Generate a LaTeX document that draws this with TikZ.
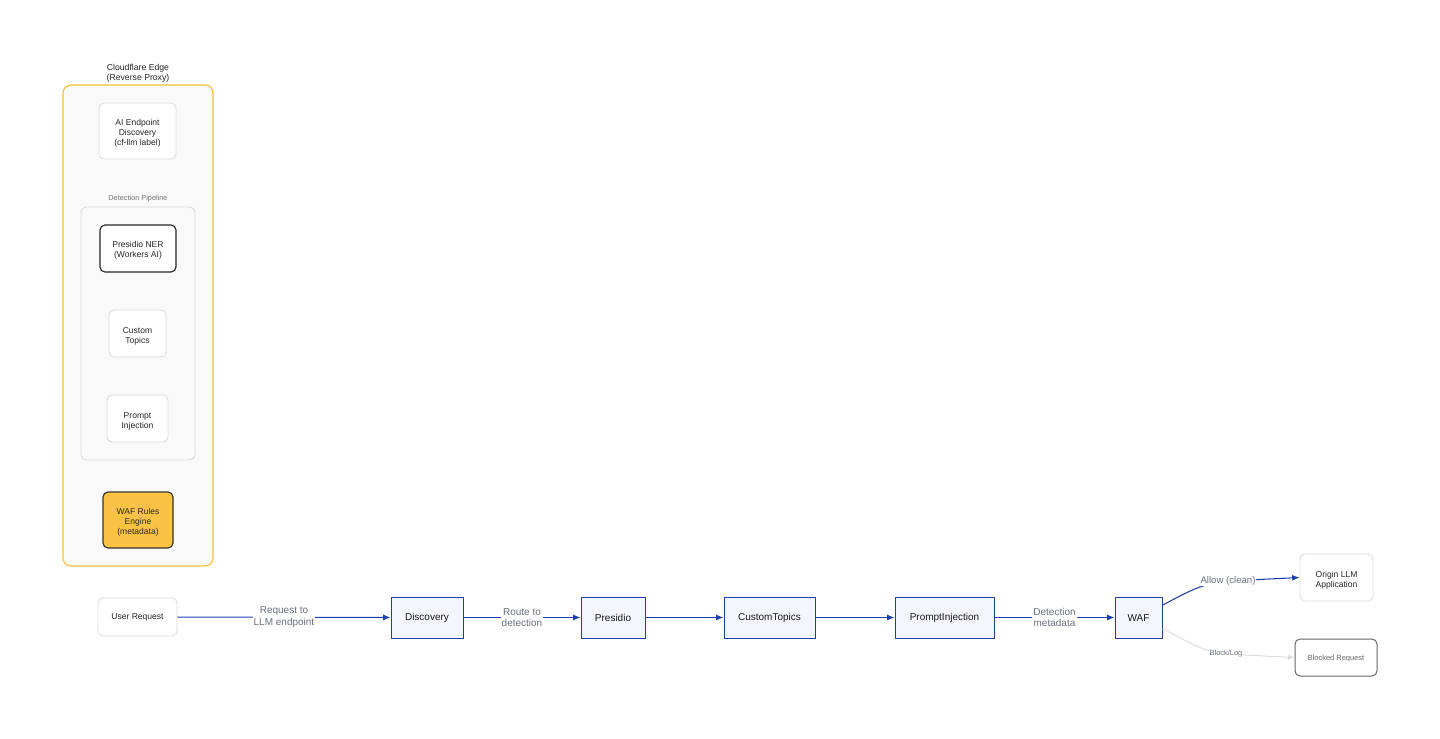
\documentclass[tikz,border=0pt]{standalone}
\usepackage{fontspec}
\setmainfont{Liberation Sans}
\usetikzlibrary{arrows.meta}
\newdimen\px \px=0.75pt
\definecolor{flowblue}{HTML}{1E3FAE}
\definecolor{flowfill}{HTML}{F4F6FE}
\definecolor{edgeorange}{HTML}{FBBF3A}
\definecolor{wafyellow}{HTML}{FBC344}
\definecolor{lightborder}{HTML}{DCDCDC}
\definecolor{panelfill}{HTML}{F9F9F9}
\definecolor{labelgray}{HTML}{6B6F80}
\tikzset{
  whitebox/.style={draw=lightborder, fill=white, rounded corners=3.75pt, line width=0.7pt, align=center, inner sep=0pt, font=\fontsize{6.4}{7.6}\selectfont, text=black!85},
  wtext/.style={align=center, inner sep=0pt, font=\fontsize{6.4}{7.6}\selectfont, text=black!85, yshift=-1.9pt},
  flowbox/.style={draw=flowblue, fill=flowfill, line width=0.75pt, align=center, inner sep=0pt, minimum height=30.75pt, font=\fontsize{7.5}{9}\selectfont, text=black!90, execute at begin node={\rule{0pt}{6.3pt}}},
  flowedge/.style={draw=flowblue, line width=0.8pt, -{Latex[length=5.5pt,width=4.5pt]}},
  elabel/.style={fill=white, inner sep=0.8pt, align=center, text=labelgray, font=\fontsize{7.5}{8.8}\selectfont},
}
\begin{document}
\begin{tikzpicture}[x=\px, y=-\px]
\useasboundingbox (0,0) rectangle (1440,739);
% container
\node (edgetitle) at (138,73) [align=center, font=\fontsize{6.5}{7.6}\selectfont, text=black!85] {Cloudflare Edge\\(Reverse Proxy)};
\draw[draw=edgeorange, fill=panelfill, line width=0.85pt, rounded corners=6pt] (63,85) rectangle (213,566);
\node (aidisc) at (137.5,131) [whitebox, minimum width=57.75pt, minimum height=42pt, label={[wtext]center:{AI Endpoint\\Discovery\\(cf-llm label)}}] {};
\node (pipetitle) at (138,198.5) [font=\fontsize{5.5}{6.5}\selectfont, text=black!55] {Detection Pipeline};
\draw[draw=lightborder, fill=panelfill, line width=0.7pt, rounded corners=4.5pt] (81,207) rectangle (195,460);
\node (presner) at (138,248.5) [whitebox, draw=black!85, line width=0.85pt, minimum width=57pt, minimum height=35.25pt, label={[wtext, yshift=0.6pt]center:{Presidio NER\\(Workers AI)}}] {};
\node (custtop) at (137.5,333.5) [whitebox, minimum width=42.75pt, minimum height=35.25pt, label={[wtext]center:{Custom\\Topics}}] {};
\node (prinj) at (137.5,418.5) [whitebox, minimum width=45.75pt, minimum height=35.25pt, label={[wtext]center:{Prompt\\Injection}}] {};
\node (wafrules) at (138,520) [whitebox, draw=black!80, fill=wafyellow, line width=0.85pt, minimum width=52.5pt, minimum height=42pt, label={[wtext]center:{WAF Rules\\Engine\\(metadata)}}] {};
% flow
\node (user) at (137.5,617) [whitebox, minimum width=59.25pt, minimum height=28.5pt, label={[wtext, yshift=1.2pt]center:{User Request}}] {};
\node (disc) at (427,617.5) [flowbox, minimum width=54pt] {Discovery};
\node (pres) at (613,617.5) [flowbox, minimum width=48pt] {Presidio};
\node (ctop) at (769.5,617.5) [flowbox, minimum width=68.25pt] {CustomTopics};
\node (pinj) at (944.5,617.5) [flowbox, minimum width=74.25pt] {PromptInjection};
\node (waf) at (1138.5,617.5) [flowbox, minimum width=35.25pt] {WAF};
\node (origin) at (1336.5,577.5) [whitebox, minimum width=54.75pt, minimum height=35.25pt, label={[wtext]center:{Origin LLM\\Application}}] {};
\node (blocked) at (1336,657.5) [whitebox, draw=black!60, line width=0.75pt, minimum width=61.5pt, minimum height=27.75pt, label={[wtext, yshift=1.2pt, font=\fontsize{5.6}{6.6}\selectfont, text=black!60]center:{Blocked Request}}] {};
\draw[flowedge] (user) -- node[elabel] {Request to\\LLM endpoint} (disc);
\draw[flowedge] (disc) -- node[elabel] {Route to\\detection} (pres);
\draw[flowedge] (pres) -- (ctop);
\draw[flowedge] (ctop) -- (pinj);
\draw[flowedge] (pinj) -- node[elabel] {Detection\\metadata} (waf);
\draw[flowedge] (waf.27) .. controls (1185,593) and (1205,582) .. (1228,581) -- node[pos=0,elabel, inner sep=0.3pt, font=\fontsize{7.2}{8.6}\selectfont] {Allow (clean)} (origin.west);
\draw[draw=lightborder, line width=0.75pt, -{Latex[length=5pt,width=4pt]}] (waf.-25) .. controls (1185,640) and (1205,653) .. (1226,654) -- node[pos=0, elabel, inner sep=0.3pt, font=\fontsize{5.6}{6.6}\selectfont] {Block/Log} (blocked.west);
\end{tikzpicture}
\end{document}
